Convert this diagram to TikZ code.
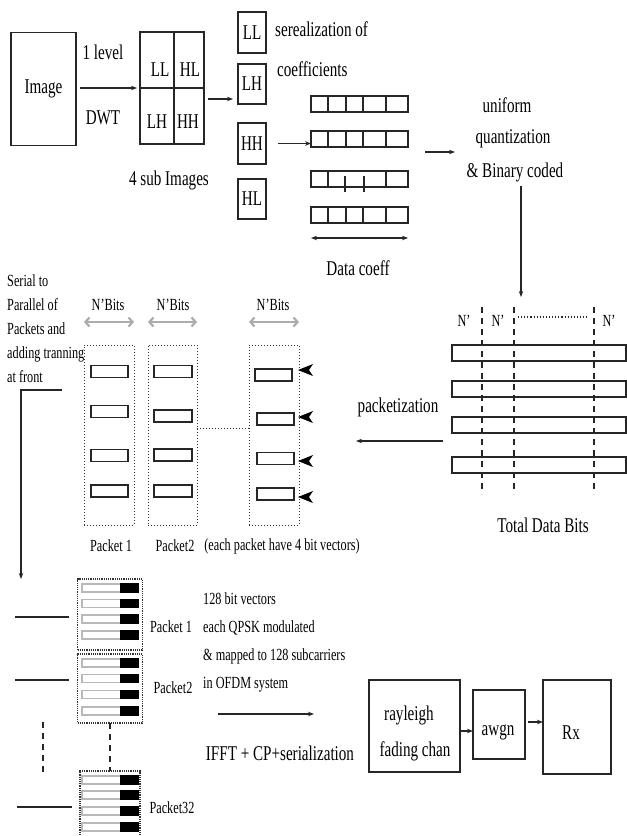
\documentclass[tikz,border=0pt]{standalone}
\usepackage{fontspec}
\setmainfont{Liberation Serif}[FakeStretch=0.72]
\usetikzlibrary{arrows.meta,calc}
\newcommand\fbig{\fontsize{21}{24}\selectfont}
\newcommand\fmed{\fontsize{17}{24}\selectfont}
\begin{document}
\begin{tikzpicture}[x=1pt,y=-1pt,
  ln/.style={black!85, line width=1.1pt},
  bx/.style 2 args={draw=black!85, line width=1.1pt, minimum width=#1pt, minimum height=#2pt, inner sep=0pt, outer sep=0pt},
  pbox/.style 2 args={draw=black!80, line width=1pt, dotted, minimum width=#1pt, minimum height=#2pt, inner sep=0pt, outer sep=0pt},
  qbox/.style 2 args={draw=black!80, line width=1.2pt, densely dotted, minimum width=#1pt, minimum height=#2pt, inner sep=0pt, outer sep=0pt},
  lbl/.style={inner sep=0pt, font=\fbig},
  mlbl/.style={inner sep=0pt, font=\fmed},
  arr/.style={ln, -{Stealth[length=6pt,width=4.5pt]}},
  darr/.style={ln, {Stealth[length=6pt,width=4.5pt]}-{Stealth[length=6pt,width=4.5pt]}},
  garr/.style={gray!65, line width=2.2pt, {Straight Barb[length=4pt,width=9pt]}-{Straight Barb[length=4pt,width=9pt]}},
  bar/.style={draw=black!85, line width=1.1pt, fill=white},
  gbar/.style={draw=gray!55, line width=1.6pt, fill=white}
]
\useasboundingbox (0,0) rectangle (627,836);

% ---------- top row ----------
\node[bx={65}{113}, font=\fbig] (img) at (43.5,89) {Image};
\node[bx={64}{112}] (grid) at (172,88) {};
\draw[ln] (grid.north) ++(2,0) -- ($(grid.south)+(2,0)$);
\draw[ln] (grid.west) -- (grid.east);
\node[lbl] (tll) at (160,70) {LL};
\node[lbl] (thl) at (190,70) {HL};
\node[lbl] (tlh) at (157,122) {LH};
\node[lbl] (thh) at (188,122) {HH};
\draw[arr, shorten <=4pt, shorten >=3pt] (img.east |- grid.west) -- (grid.west);
\node[lbl] (lev) at (103,52) {1 level};
\node[lbl] (dwt) at (103,118) {DWT};
\node[lbl] (sub) at (169,180) {4 sub Images};

\node[bx={28}{41}, font=\fbig] (sll) at (252,32.5) {LL};
\node[bx={28}{40}, font=\fbig] (slh) at (252,84) {LH};
\node[bx={28}{41}, font=\fbig] (shh) at (252,143.5) {HH};
\node[bx={28}{40}, font=\fbig] (shl) at (252,199) {HL};
\coordinate (g1) at ($(grid.east)+(0,11)$);
\draw[arr, shorten <=4pt, shorten >=5pt] (g1) -- (g1 -| slh.west);
\node[lbl, anchor=base west] (ser1) at (275,36) {serealization of};
\node[lbl, anchor=base west] (ser2) at (277,76) {coefficients};

% data coefficient rows
\node[bx={97}{16}] (dc1) at (359.5,104) {};
\node[bx={97}{16}] (dc2) at (359.5,139) {};
\node[bx={97}{16}] (dc3) at (359.5,179) {};
\node[bx={97}{16}] (dc4) at (359.5,215) {};
\foreach \yy in {104,139,215}
  \foreach \xx in {328,346,363,386}
    \draw[ln] (\xx,\yy-8) -- (\xx,\yy+8);
\foreach \xx in {328,386} \draw[ln] (\xx,171) -- (\xx,187);
\foreach \xx in {345,364} \draw[ln] (\xx,176) -- (\xx,192);
\draw[arr, shorten <=12pt] (shh.east) -- (shh.east -| dc2.west);
\coordinate (dca) at ($(dc4.south west)+(0,15)$);
\coordinate (dcb) at ($(dc4.south east)+(0,15)$);
\draw[darr] (dca) -- (dcb);
\node[lbl] (dcl) at (358,268) {Data coeff};

\coordinate (qa0) at (425,152);
\coordinate (qa1) at (455,152);
\draw[arr] (qa0) -- (qa1);
\node[lbl, anchor=base] (qt1) at (507,112) {uniform};
\node[lbl, anchor=base] (qt2) at (513,143) {quantization};
\node[lbl, anchor=base] (qt3) at (515,177) {\& Binary coded};
\coordinate (qs) at (521,186);
\coordinate (qe) at (521,297);
\draw[arr] (qs) -- (qe);

% ---------- total data bits ----------
\node[bx={174}{16}] (tb1) at (539,353) {};
\node[bx={174}{16}] (tb2) at (539,389) {};
\node[bx={174}{16}] (tb3) at (539,425) {};
\node[bx={174}{16}] (tb4) at (539,465) {};
\foreach \xx in {482,514,594}
  \draw[ln, dash pattern=on 6pt off 5pt] (\xx,307) -- (\xx,494);
\draw[ln, dotted] (518,317) -- (587,317);
\node[mlbl] (n1) at (464,321) {N'};
\node[mlbl] (n2) at (498,321) {N'};
\node[mlbl] (n3) at (609,321) {N'};
\node[lbl] (tdb) at (543,525) {Total Data Bits};
\coordinate (pz0) at (443,441);
\coordinate (pz1) at (356,441);
\draw[arr] (pz0) -- (pz1);
\node[lbl] (pzl) at (398,407) {packetization};

% ---------- packets (serial to parallel) ----------
\node[mlbl, anchor=north west, align=left] (s2p) at (7,274)
  {Serial to\\Parallel of\\Packets and\\adding tranning\\at front};
\coordinate (sa) at (62,390);
\coordinate (sb) at (21,579);
\draw[arr] (sa) -| (sb);

\node[pbox={50}{180}] (pk1) at (109,435) {};
\node[pbox={49}{180}] (pk2) at (172.5,435) {};
\node[pbox={50}{180}] (pk3) at (274,435) {};
\foreach \yy in {371.5,411.5,455.5,491}
  \draw[bar] (91,\yy-6) rectangle (128,\yy+6);
\foreach \yy in {371.5,416,455,491}
  \draw[bar] (154,\yy-6) rectangle (192,\yy+6);
\draw[bar] (255,369) rectangle (292,381);
\foreach \yy in {419,458.5,494}
  \draw[bar] (257,\yy-6) rectangle (294,\yy+6);
\foreach \yy in {370,417,461,497}
  \fill[black] (298,\yy) -- (313,\yy-6) -- (309,\yy) -- (313,\yy+6) -- cycle;
\draw[black!80, line width=1pt, dotted] ($(pk2.east)+(0,-7)$) -- ($(pk3.west)+(0,-7)$);
\foreach \p/\xx in {pk1/108, pk2/173, pk3/273}{
  \node[mlbl] at (\xx,305) {N'Bits};
  \draw[garr] ($(\p.north west)+(0,-23)$) -- ($(\p.north east)+(0,-23)$);
}
\node[mlbl] (pl1) at (111,546) {Packet 1};
\node[mlbl] (pl2) at (175,546) {Packet2};
\node[mlbl] (pl3) at (282,546) {(each packet have 4 bit vectors)};

% ---------- OFDM packets ----------
\node[qbox={65}{71}] (p1b) at (110,614.5) {};
\node[qbox={65}{69}] (p2b) at (110,688.5) {};
\node[qbox={60}{68}] (p32b) at (110,805) {};
\foreach \yy in {588,603.5,619,635, 663,678.5,694.5,711, 780,795,811,827}{
  \draw[gbar] (82,\yy-4) rectangle (138,\yy+4);
  \fill[black] (120,\yy-4.8) rectangle (138.8,\yy+4.8);
}
\draw[ln, dash pattern=on 6pt off 5pt] (p2b.south) -- (p32b.north);
\coordinate (la1) at (15,617);
\coordinate (la2) at (15,680);
\coordinate (la3) at (17,807);
\draw[ln] (la1) -- ++(54,0);
\draw[ln] (la2) -- ++(54,0);
\draw[ln] (la3) -- ++(55,0);
\draw[ln, dash pattern=on 6pt off 5pt] (43,722) -- (43,772);
\node[mlbl] (pb1) at (171,627) {Packet 1};
\node[mlbl] (pb2) at (173,688) {Packet2};
\node[mlbl] (pb3) at (172,808) {Packet32};

\node[mlbl, anchor=north west, align=left, font=\fontsize{17}{28}\selectfont] (ofdm) at (203,592)
  {128 bit vectors\\each QPSK modulated\\\& mapped to 128 subcarriers\\in OFDM system};
\coordinate (if0) at (218,714);
\coordinate (if1) at (314,714);
\draw[arr] (if0) -- (if1);
\node[lbl] (ifl) at (280,753) {IFFT + CP+serialization};

\node[bx={91}{92}] (ray) at (414.5,726) {};
\node[lbl, anchor=base] (rt1) at (409,720) {rayleigh};
\node[lbl, anchor=base] (rt2) at (415,756) {fading chan};
\node[bx={52}{69}] (awgn) at (499,724.5) {};
\node[lbl, anchor=base] (at) at (498,735) {awgn};
\node[bx={68}{94}] (rx) at (577,727) {};
\node[lbl, anchor=base] (rxt) at (571,739) {Rx};
\coordinate (r1) at ($(ray.east)+(0,5)$);
\draw[arr] (r1) -- (r1 -| awgn.west);
\coordinate (a1) at ($(awgn.east)+(0,-2.5)$);
\draw[arr, shorten <=3pt] (a1) -- (a1 -| rx.west);
\end{tikzpicture}
\end{document}
